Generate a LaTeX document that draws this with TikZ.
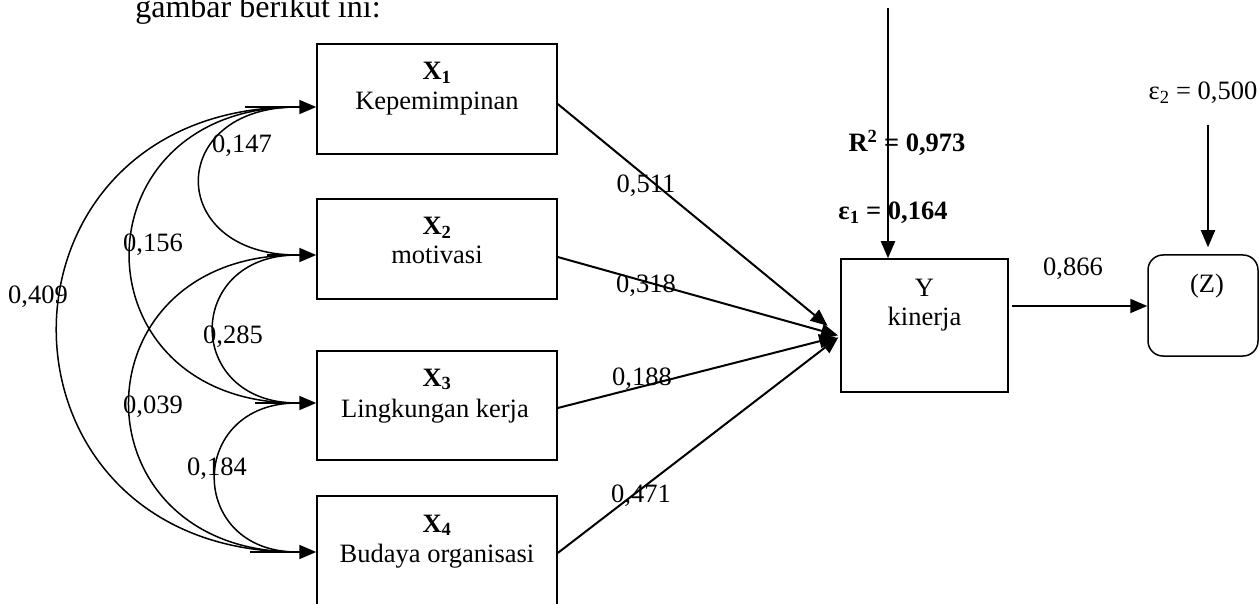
\documentclass[tikz,border=0pt]{standalone}
\usepackage{fontspec}
\setmainfont{Liberation Serif}
\usetikzlibrary{arrows.meta,calc}
\newcommand\dgfont{\fontsize{26.5}{30}\selectfont}
\begin{document}
\begin{tikzpicture}[x=1pt,y=-1pt,
  box/.style={draw,line width=1.5pt,inner sep=0pt,minimum width=240pt},
  txt/.style={anchor=base,inner sep=0pt,font=\dgfont},
  arr/.style={line width=2pt,-{Triangle[length=17pt,width=14pt]}},
  cur/.style={line width=1.5pt}]
\useasboundingbox (0,0) rectangle (1259,604);
\clip (0,0) rectangle (1259,604);

% heading
\node[anchor=base,inner sep=0pt,font=\fontsize{32}{36}\selectfont] (head) at (258,18) {gambar berikut ini:};

% boxes
\node[box,minimum height=110pt] (X1) at (437,99) {};
\node[box,minimum height=100pt] (X2) at (437,249) {};
\node[box,minimum height=109pt] (X3) at (437,405.5) {};
\node[box,minimum height=114pt] (X4) at (437,553) {};
\node[box,minimum width=167pt,minimum height=133pt] (Y) at (924.5,325.5) {};
\node[box,minimum width=110pt,minimum height=101pt,rounded corners=15pt] (Z) at (1203,305.5) {};

% box texts
\node[txt] (x1a) at (437,80) {\textbf{X\textsubscript{1}}};
\node[txt] (x1b) at (437,110) {Kepemimpinan};
\node[txt] (x2a) at (437,235) {\textbf{X\textsubscript{2}}};
\node[txt] (x2b) at (437,264) {motivasi};
\node[txt] (x3a) at (437,386) {\textbf{X\textsubscript{3}}};
\node[txt] (x3b) at (435,417) {Lingkungan kerja};
\node[txt] (x4a) at (437,532) {\textbf{X\textsubscript{4}}};
\node[txt] (x4b) at (437,562) {Budaya organisasi};
\node[txt] (ya) at (924.5,296) {Y};
\node[txt] (yb) at (924.5,325) {kinerja};
\node[txt] (za) at (1207,293) {(Z)};

% arrows into X boxes
\coordinate (t1) at (245,107);
\coordinate (t2) at (267,255);
\coordinate (t3) at (255,403);
\coordinate (t4) at (250,552);
\draw[arr] (t1) -- (t1 -| X1.west);
\draw[arr] (t2) -- (t2 -| X2.west);
\draw[arr] (t3) -- (t3 -| X3.west);
\draw[arr] (t4) -- (t4 -| X4.west);

% correlation curves
\coordinate (c1) at (297,107);
\coordinate (c2) at (297,255);
\coordinate (c3) at (297,403);
\coordinate (c4) at (297,552);
\draw[cur] (c1) to[out=180,in=180,looseness=2.28] (c2);
\draw[cur] (c1) to[out=180,in=180,looseness=1.94] (c3);
\draw[cur] (c1) to[out=180,in=180,looseness=1.85] (c4);
\draw[cur] (c2) to[out=180,in=180,looseness=1.96] (c3);
\draw[cur] (c2) to[out=180,in=180,looseness=1.94] (c4);
\draw[cur] (c3) to[out=180,in=180,looseness=1.90] (c4);

% correlation labels
\node[txt] (r12) at (242,153) {0,147};
\node[txt] (r13) at (153,252) {0,156};
\node[txt] (r14) at (38,303) {0,409};
\node[txt] (r23) at (233,343) {0,285};
\node[txt] (r24) at (153,413) {0,039};
\node[txt] (r34) at (217,475) {0,184};

% paths to Y
\coordinate (yin) at (840,336);
\draw[arr,shorten >=16pt] ([yshift=-5pt]X1.east) -- (yin);
\draw[arr,shorten >=2pt] ([yshift=-8pt]X2.east) -- (yin);
\draw[arr,shorten >=4pt] ([yshift=-2.5pt]X3.east) -- (yin);
\draw[arr,shorten >=2pt] (X4.east) -- (yin);

\node[txt] (p1) at (646,193) {0,511};
\node[txt] (p2) at (646,293) {0,318};
\node[txt] (p3) at (642,385) {0,188};
\node[txt] (p4) at (641,502) {0,471};

% error terms
\coordinate (e1top) at (888,8);
\draw[arr] (e1top) -- (e1top |- Y.north);
\node[txt] (r2) at (907,152) {\textbf{R\textsuperscript{2} = 0,973}};
\node[txt] (e1) at (893,220) {\textbf{ε\textsubscript{1} = 0,164}};

\coordinate (e2top) at (1208,125);
\draw[arr,shorten >=7pt] (e2top) -- (e2top |- Z.north);
\node[txt] (e2) at (1203,100) {ε\textsubscript{2} = 0,500};

% Y -> Z
\coordinate (yz) at (1012,306);
\draw[arr] (yz) -- (yz -| Z.west);
\node[txt] (p5) at (1073,276) {0,866};
\end{tikzpicture}
\end{document}
